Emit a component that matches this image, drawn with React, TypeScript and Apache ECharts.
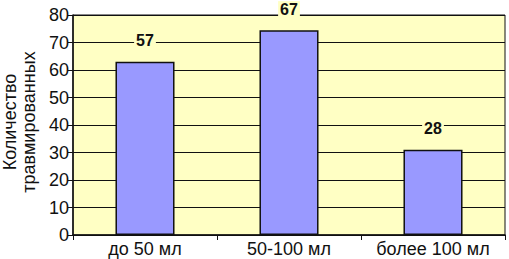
import React, { useEffect, useRef } from "react";
import * as echarts from "echarts";

const categories = ["до 50 мл", "50-100 мл", "более 100 мл"];
const barValues = [63, 74.5, 31];
const labelTexts = ["57", "67", "28"];
const yTicks = { min: 0, max: 80, interval: 10 };
const yTitle = "Количество\nтравмированных";

export default function App() {
  const ref = useRef<HTMLDivElement>(null);
  useEffect(() => {
    if (!ref.current) return;
    const chart = echarts.init(ref.current, undefined, { renderer: "svg" });
    const font = "Liberation Sans, Arial, sans-serif";
    chart.setOption({
      animation: false,
      grid: {
        left: 73,
        right: 4,
        top: 15,
        bottom: 24,
        outerBoundsMode: "none",
        containLabel: false,
        show: true,
        backgroundColor: "#ffffc4",
        borderColor: "#111",
        borderWidth: 1,
      },
      xAxis: {
        type: "category",
        data: categories,
        axisLine: { lineStyle: { color: "#111", width: 1.5 } },
        axisTick: { show: true, length: 5, alignWithLabel: false, lineStyle: { color: "#111" } },
        axisLabel: { color: "#111", fontSize: 18, fontFamily: font, margin: 5, interval: 0, hideOverlap: false },
      },
      yAxis: {
        type: "value",
        min: yTicks.min,
        max: yTicks.max,
        interval: yTicks.interval,
        name: yTitle,
        nameLocation: "middle",
        nameRotate: 90,
        nameGap: 35,
        nameTextStyle: { color: "#111", fontSize: 18, fontFamily: font, lineHeight: 19, padding: [0, 0, 0, 6] },
        axisLine: { show: true, lineStyle: { color: "#111", width: 1.5 } },
        axisTick: { show: true, length: 5, lineStyle: { color: "#111" } },
        axisLabel: { color: "#111", fontSize: 18, fontFamily: font, margin: 4 },
        splitLine: { show: true, lineStyle: { color: "#111", width: 1 } },
      },
      series: [
        {
          type: "bar",
          data: barValues,
          barWidth: "41%",
          itemStyle: { color: "#9999ff", borderColor: "#111", borderWidth: 1.5 },
          label: {
            show: true,
            position: "top",
            distance: 13,
            formatter: (p: any) => labelTexts[p.dataIndex],
            color: "#111",
            fontSize: 16,
            fontWeight: "bold",
            fontFamily: font,
            backgroundColor: "#ffffc4",
            padding: [0, 2],
          },
        },
      ],
    });
    return () => chart.dispose();
  }, []);
  return <div ref={ref} style={{ width: 509, height: 259, position: "absolute", left: 0, top: 0 }} />;
}
